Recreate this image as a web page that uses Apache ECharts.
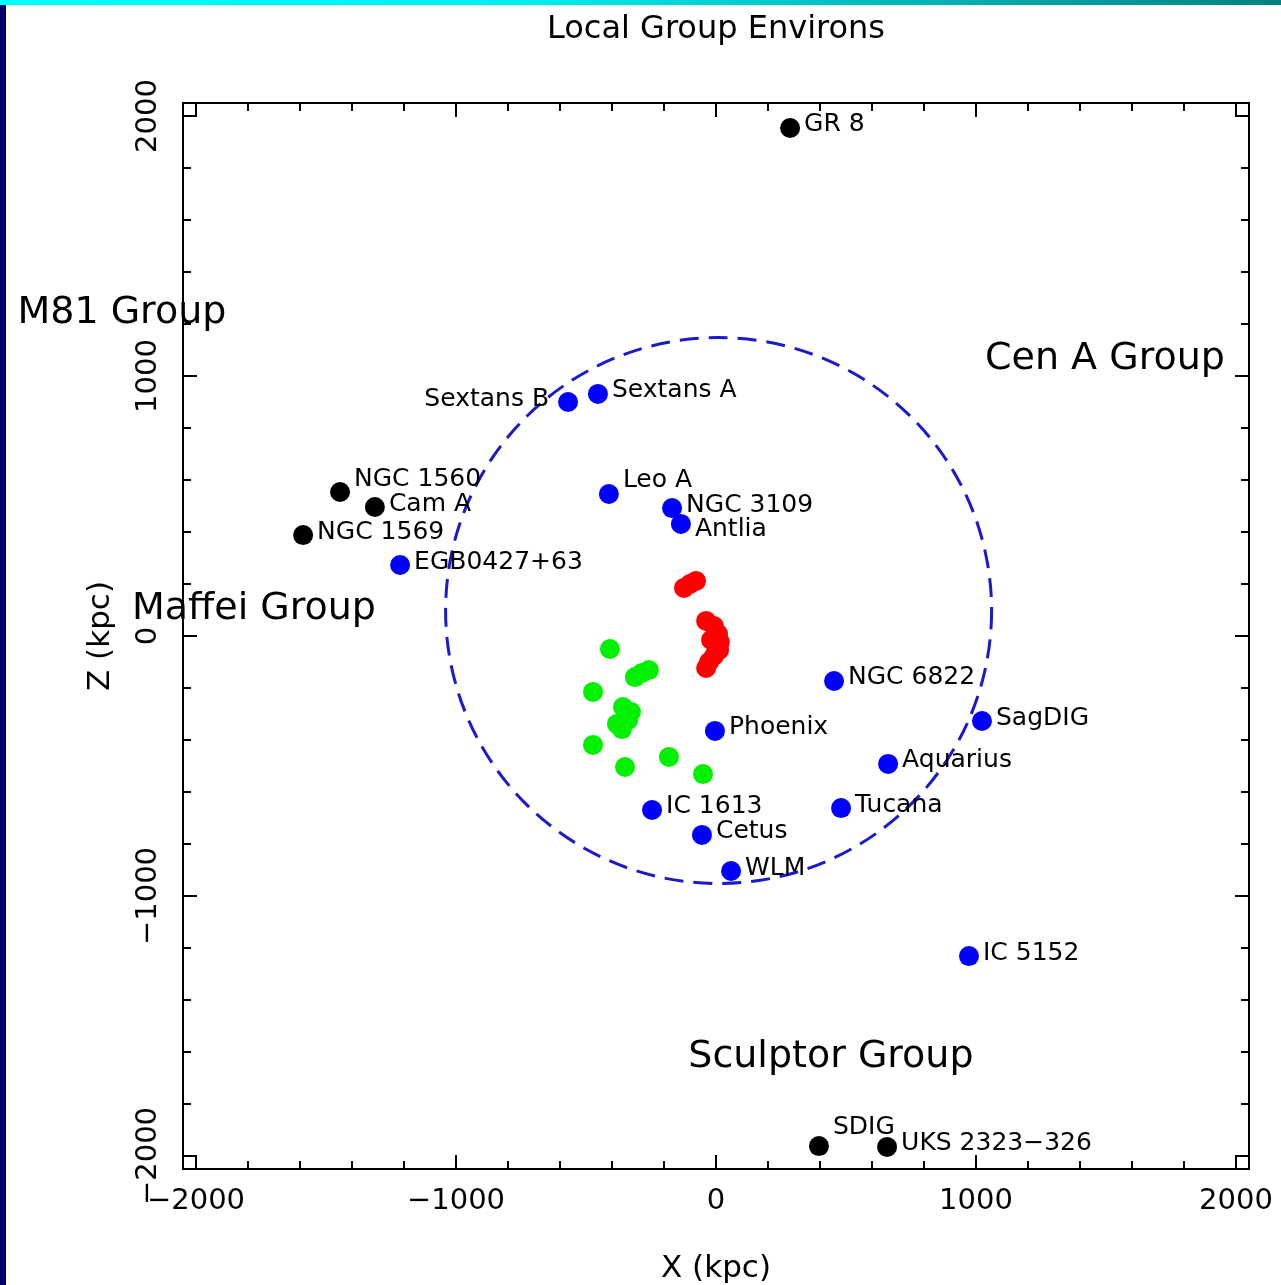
<!DOCTYPE html>
<html><head><meta charset="utf-8">
<script src="https://cdn.jsdelivr.net/npm/echarts@6/dist/echarts.min.js"></script>
<style>html,body{margin:0;padding:0;background:#fff}#c{width:1281px;height:1285px}</style>
</head><body><div id="c"></div>
<script>
const chartTitle = 'Local Group Environs';
const xName = 'X (kpc)';
const zName = 'Z (kpc)';
const majorTicks = [-2000, -1000, 0, 1000, 2000];
const minorTicks = [-1800, -1600, -1400, -1200, -800, -600, -400, -200, 200, 400, 600, 800, 1200, 1400, 1600, 1800];

const blackNames = ['GR 8', 'NGC 1560', 'Cam A', 'NGC 1569', 'SDIG', 'UKS 2323\u2212326'];
const blackX = [285, -1446, -1312, -1588, 396, 658];
const blackZ = [1954, 554, 496, 388, -1962, -1965];

const blueNames = ['Sextans B', 'Sextans A', 'Leo A', 'NGC 3109', 'Antlia', 'EGB0427+63', 'NGC 6822', 'SagDIG', 'Aquarius', 'Tucana', 'Phoenix', 'IC 1613', 'Cetus', 'WLM', 'IC 5152'];
const blueX = [-569, -454, -412, -169, -135, -1215, 454, 1023, 662, 481, -4, -246, -54, 58, 973];
const blueZ = [900, 931, 546, 492, 431, 273, -173, -327, -492, -662, -365, -669, -765, -904, -1231];

const redX = [-123, -100, -77, -38, -8, 8, 15, -19, 12, -8, -27, -38];
const redZ = [185, 200, 212, 58, 38, 8, -23, -15, -54, -77, -100, -123];

const greenX = [-408, -473, -312, -285, -258, -358, -327, -338, -381, -362, -473, -350, -181, -50];
const greenZ = [-50, -215, -158, -142, -131, -273, -292, -323, -338, -358, -419, -504, -465, -531];

const groupNames = ['M81 Group', 'Cen A Group', 'Maffei Group', 'Sculptor Group'];
const groupX = [-2285, 1496, -1777, 442];
const groupZ = [1242, 1065, 103, -1620];

// Local Group boundary circle: centre x, centre z, radius (kpc)
const circleX = 10, circleZ = 98, circleR = 1050;

const FONT = 'DejaVu Sans';
const labelNudge = { 'NGC 1560': -12, 'Leo A': -14, 'SDIG': -19, 'Antlia': 6 };
const labelLeft = { 'Sextans B': true };

function items(names, xs, zs) {
  return names.map((n, i) => {
    const it = { name: n, value: [xs[i], zs[i]] };
    if (labelLeft[n]) it.label = { position: 'left', distance: 9 };
    else if (labelNudge[n] !== undefined) it.label = { offset: [0, labelNudge[n]] };
    return it;
  });
}
function pts(xs, zs) { return xs.map((x, i) => [x, zs[i]]); }

const minus = v => String(v).replace('-', '\u2212');
const tickStyle = { color: '#000', width: 2 };
function xAx(pos, ticks, len, withLabel) {
  return {
    type: 'value', position: pos, min: -2050, max: 2050,
    axisLine: { show: false, onZero: false }, splitLine: { show: false },
    axisTick: { show: true, inside: true, length: len, customValues: ticks, lineStyle: tickStyle },
    axisLabel: withLabel ? { show: true, customValues: ticks, formatter: minus, fontSize: 29, fontFamily: FONT, color: '#000', margin: 18 } : { show: false },
    name: withLabel ? xName : '', nameLocation: 'middle', nameGap: 84,
    nameTextStyle: { fontSize: 31, fontFamily: FONT, color: '#000' }
  };
}
function yAx(pos, ticks, len, withLabel) {
  return {
    type: 'value', position: pos, min: -2050, max: 2050,
    axisLine: { show: false, onZero: false }, splitLine: { show: false },
    axisTick: { show: true, inside: true, length: len, customValues: ticks, lineStyle: tickStyle },
    axisLabel: withLabel ? { show: true, customValues: ticks, formatter: minus, rotate: 90, fontSize: 29, fontFamily: FONT, color: '#000', margin: 20 } : { show: false },
    name: withLabel ? zName : '', nameLocation: 'middle', nameGap: 67,
    nameTextStyle: { fontSize: 31, fontFamily: FONT, color: '#000' }
  };
}

const dotLabel = { show: true, position: 'right', distance: 4, offset: [0, -3], formatter: '{b}', fontSize: 25, fontFamily: FONT, color: '#000' };
const SZ = 20;

const chart = echarts.init(document.getElementById('c'), null, { renderer: 'canvas' });
chart.setOption({
  animation: false,
  backgroundColor: '#fff',
  title: { text: chartTitle, left: 716, top: 14, textAlign: 'center', padding: 0,
    textStyle: { fontSize: 32, fontWeight: 'normal', fontFamily: FONT, color: '#000' } },
  graphic: [
    { type: 'rect', left: 0, top: 0, shape: { width: 1281, height: 5 },
      style: { fill: new echarts.graphic.LinearGradient(0, 0, 1, 0, [
        { offset: 0, color: '#00ffff' }, { offset: 0.4, color: '#00f0f0' }, { offset: 1, color: '#008080' }]) } },
    { type: 'rect', left: 0, top: 5, shape: { width: 6, height: 1280 }, style: { fill: '#000066' } }
  ],
  grid: { left: 183, top: 103, width: 1066, height: 1066, containLabel: false, outerBoundsMode: 'none',
    show: true, borderColor: '#000', borderWidth: 2, backgroundColor: 'transparent' },
  xAxis: [xAx('bottom', majorTicks, 14, true), xAx('bottom', minorTicks, 8, false), xAx('top', majorTicks, 14, false), xAx('top', minorTicks, 8, false)],
  yAxis: [yAx('left', majorTicks, 14, true), yAx('left', minorTicks, 8, false), yAx('right', majorTicks, 14, false), yAx('right', minorTicks, 8, false)],
  series: [
    { type: 'custom', coordinateSystem: 'cartesian2d', xAxisIndex: 0, yAxisIndex: 0, silent: true, clip: false, z: 1,
      data: [[circleX, circleZ, circleR]],
      renderItem: (params, api) => {
        const c = api.coord([api.value(0), api.value(1)]);
        const r = api.size([api.value(2), 0])[0];
        return { type: 'circle', shape: { cx: c[0], cy: c[1], r: r },
          style: { fill: 'none', stroke: '#1a1acc', lineWidth: 3, lineDash: [19, 10] } };
      } },
    { type: 'scatter', xAxisIndex: 0, yAxisIndex: 0, symbolSize: SZ, itemStyle: { color: '#ff0000', opacity: 1 }, silent: true, data: pts(redX, redZ), z: 2 },
    { type: 'scatter', xAxisIndex: 0, yAxisIndex: 0, symbolSize: SZ, itemStyle: { color: '#00f000', opacity: 1 }, silent: true, data: pts(greenX, greenZ), z: 2 },
    { type: 'scatter', xAxisIndex: 0, yAxisIndex: 0, symbolSize: SZ, itemStyle: { color: '#0000ff', opacity: 1 }, silent: true, label: dotLabel, data: items(blueNames, blueX, blueZ), z: 3 },
    { type: 'scatter', xAxisIndex: 0, yAxisIndex: 0, symbolSize: SZ, itemStyle: { color: '#000', opacity: 1 }, silent: true, label: dotLabel, data: items(blackNames, blackX, blackZ), z: 3 },
    { type: 'scatter', xAxisIndex: 0, yAxisIndex: 0, symbolSize: 1, clip: false, silent: true, itemStyle: { color: '#fff', opacity: 0 },
      label: { show: true, position: 'inside', formatter: '{b}', fontSize: 38, fontFamily: FONT, color: '#000', opacity: 1 },
      data: groupNames.map((n, i) => ({ name: n, value: [groupX[i], groupZ[i]] })), z: 3 }
  ]
});
</script></body></html>
